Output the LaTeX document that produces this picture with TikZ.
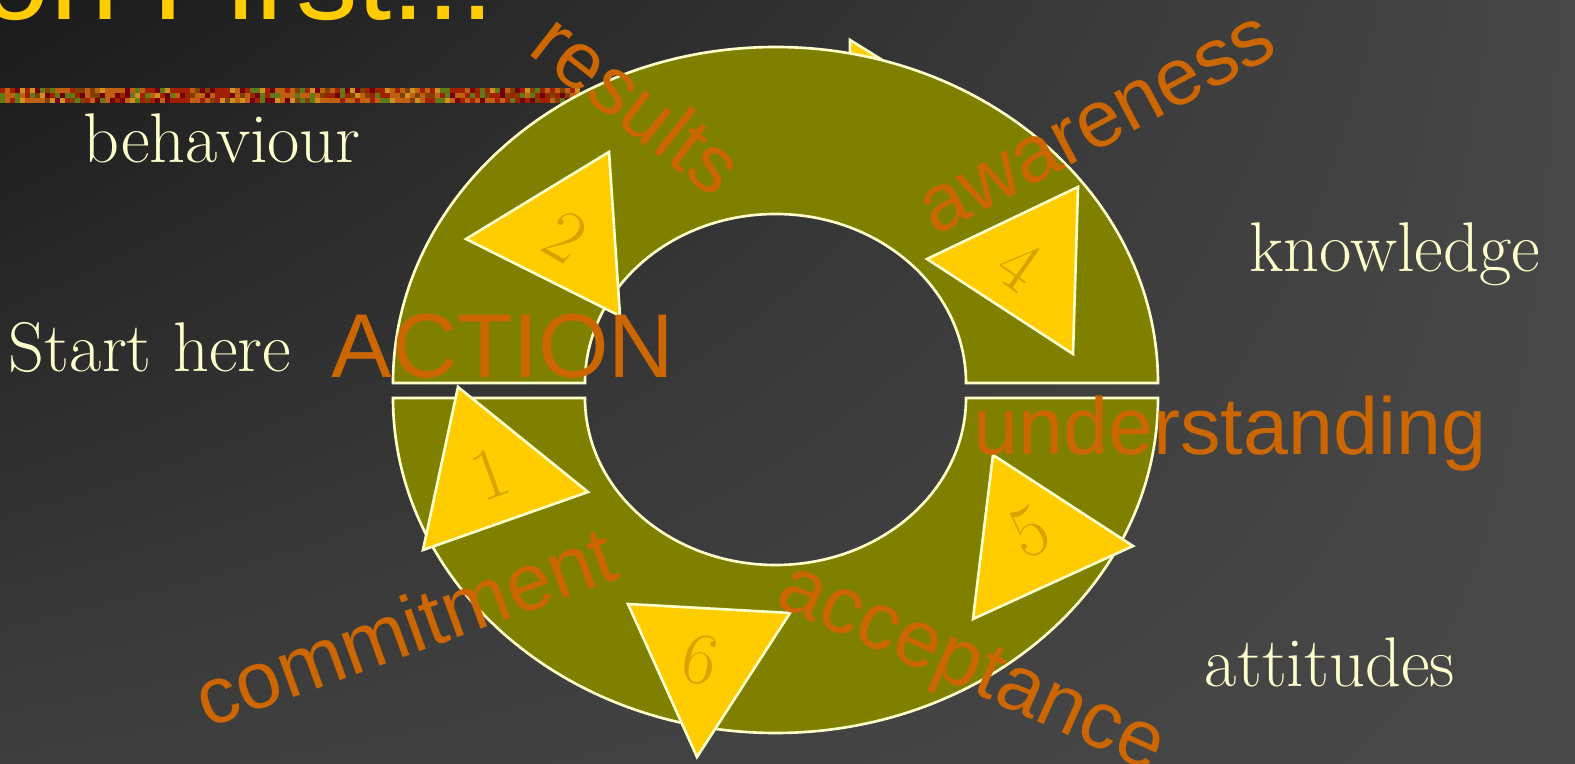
\documentclass[tikz,border=0pt]{standalone}
\usepackage{fontspec}
\usetikzlibrary{shadings}
\newfontfamily\sansword{Liberation Sans}
\definecolor{olivering}{HTML}{808000}
\definecolor{arrowyellow}{HTML}{FFCC00}
\definecolor{numgold}{HTML}{D6A300}
\definecolor{wordorange}{HTML}{CC6600}
\definecolor{cream}{HTML}{FFFFCC}
\definecolor{bgUL}{HTML}{1A1A1A}
\definecolor{bgUR}{HTML}{474747}
\definecolor{bgLL}{HTML}{3E3E3E}
\definecolor{bgLR}{HTML}{484848}
\definecolor{stripA}{HTML}{C06010}
\definecolor{stripB}{HTML}{804000}
\definecolor{stripC}{HTML}{A02000}
\definecolor{stripD}{HTML}{607A18}
\definecolor{stripE}{HTML}{D09020}
\definecolor{stripF}{HTML}{700010}
\begin{document}
\begin{tikzpicture}[x=0.01cm,y=-0.01cm,
    ringhalf/.style={fill=olivering,draw=cream,line width=0.75pt},
    arrowtri/.style={fill=arrowyellow,draw=cream,line width=0.75pt},
    stepnum/.style={text=numgold,font=\fontsize{21}{21}\selectfont,inner sep=0pt},
    word/.style={text=wordorange,font=\sansword\fontsize{23}{23}\selectfont,inner sep=0pt},
    stagetext/.style={text=cream,font=\fontsize{20}{20}\selectfont,inner sep=0pt,anchor=base}]
    \clip (0,0) rectangle (1575,764);
    \shade[upper left=bgUL,upper right=bgUR,lower left=bgLL,lower right=bgLR] (0,0) rectangle (1575,764);
    \pgfmathsetseed{11}
    \pgfmathdeclarerandomlist{stripcols}{{stripA}{stripB}{stripC}{stripD}{stripE}{stripF}{stripA}{stripC}}
    \foreach \i in {0,...,115}{
      \foreach \j in {0,1,2}{
        \pgfmathrandomitem{\stripc}{stripcols}
        \fill[\stripc] ({\i*5},{88+\j*5}) rectangle ++(5,5);
      }
    }
    \node[anchor=base west,text=arrowyellow,font=\sansword\fontsize{35}{35}\selectfont,inner sep=0pt] (title) at (-19,20) {on First...};

    \draw[arrowtri] (850,40) -- (995,130) -- (850,210) -- cycle;
    \draw[ringhalf] (393,383) arc[start angle=180,end angle=360,x radius=382.5,y radius=336]
      -- (966,383) arc[start angle=0,end angle=-180,x radius=190.5,y radius=169] -- cycle;
    \draw[ringhalf] (393,398) arc[start angle=180,end angle=0,x radius=382.5,y radius=335]
      -- (966,398) arc[start angle=0,end angle=180,x radius=190.5,y radius=167] -- cycle;

    \foreach \ax/\ay/\bx/\by/\cx/\cy/\nx/\ny/\n/\r in {
        466/239/609/152/620/316/565/237/2/-30,
        458/387/588/492/423/550/490/474/1/20,
        927/259/1078/187/1073/354/1020/265/4/-35,
        993/455/1133/546/973/619/1030/532/5/25,
        628/604/790/613/697/757/700/660/6/-12}{
      \draw[arrowtri] (\ax,\ay) -- (\bx,\by) -- (\cx,\cy) -- cycle;
      \node[stepnum,rotate=\r] (n\n) at (\nx,\ny) {\n};
    }

    \node[word,rotate=-38] (res) at (638,103) {results};
    \node[word,rotate=28] (aware) at (1098,126) {awareness};
    \node[word,anchor=base] (under) at (1230,455) {understanding};
    \node[word,rotate=-24] (accept) at (970,672) {acceptance};
    \node[word,rotate=20] (commit) at (405,626) {commitment};
    \node[word,anchor=base,font=\sansword\fontsize{25.8}{25.8}\selectfont] (action) at (503,378) {ACTION};

    \node[stagetext] (behav) at (222,163) {behaviour};
    \node[stagetext] (know) at (1395,272) {knowledge};
    \node[stagetext] (start) at (150,372) {Start here};
    \node[stagetext] (atti) at (1330,687) {attitudes};
  \end{tikzpicture}
\end{document}
